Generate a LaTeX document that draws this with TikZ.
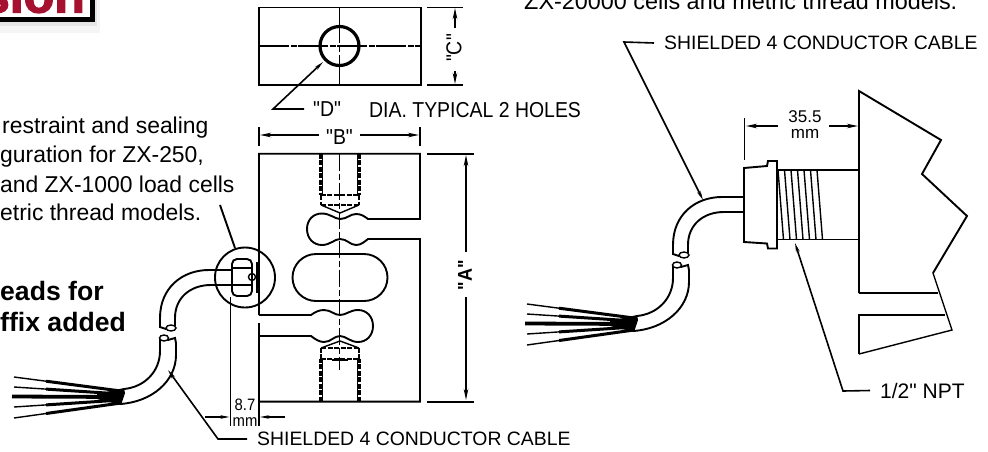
\documentclass[tikz,border=0pt]{standalone}
\usepackage{fontspec}
\setmainfont{Liberation Sans}
\newfontfamily\narrowfont[FakeStretch=0.9]{Liberation Sans}
\newfontfamily\plainfont{Liberation Sans}
\newfontfamily\logofont[FakeBold=2.5]{Liberation Sans Bold}
\usetikzlibrary{arrows.meta,calc}
\definecolor{logored}{HTML}{A5112F}
\tikzset{
    part/.style={line width=1.9pt},
    thinpart/.style={line width=1.4pt},
    hidden/.style={line width=2.2pt, dash pattern=on 5pt off 1.5pt},
    centre/.style={line width=1.7pt, dash pattern=on 17pt off 3pt on 6pt off 3pt},
    hairline/.style={line width=1.7pt, dash pattern=on 30pt off 1.5pt on 6pt off 1.5pt},
    dim/.style={line width=1.7pt, -{Stealth[length=11pt,width=4.5pt]}},
    leader/.style={line width=1.6pt, -{Stealth[length=9pt,width=3.5pt]}},
    note/.style={font=\fontsize{22.9}{24}\selectfont, inner sep=0pt, anchor=base west},
    boldnote/.style={font=\fontsize{26.6}{28}\selectfont\bfseries, inner sep=0pt, anchor=base west},
    callout/.style={font=\fontsize{19.4}{22}\selectfont, inner ysep=0pt, inner xsep=10pt, anchor=west},
    dimtext/.style={font=\narrowfont\fontsize{21.6}{24}\selectfont, inner sep=0pt},
    smalldim/.style={font=\narrowfont\fontsize{16.5}{18}\selectfont, inner sep=0pt},
}
% cable with cut mark and stripped wires, drawn where the right hand one sits
\newcommand{\cablerun}{
    \draw[part] (744,197) -- (722,197) .. controls (695,197) and (673,215) .. (673,245) -- (673,254) -- (679,256);
    \draw[part] (744,212) -- (724,212) .. controls (703,212) and (688,225) .. (688,245) -- (688,253);
    \draw[thinpart] (684,255) ellipse [x radius=5, y radius=3];
    \draw[thinpart] (677,265) ellipse [x radius=4.5, y radius=3];
    \draw[part] (673,266) -- (673,278) .. controls (673,298) and (658,314) .. (637,316);
    \draw[part] (681,267) -- (688,265) -- (689,270) -- (689,282) .. controls (689,308) and (665,329) .. (633,331);
    \fill (637,315) -- (638,320) -- (634,332) -- (610,326) -- (610,321) -- cycle;
    \foreach \tipy/\endy in {304/318,314/321,334/327,345/330} {
        \draw[line width=1.4pt] (527,\tipy) -- (634,\endy);
        \draw[line width=3pt] ($(527,\tipy)!.3!(634,\endy)$) -- (634,\endy);
    }
    \draw[line width=3.8pt] (525,323.5) -- (634,324);
}
\begin{document}
\begin{tikzpicture}[x=1pt, y=-1pt]
    \useasboundingbox (0,0) rectangle (988,451);

    % logo corner
    \fill[black!4] (0,0) rectangle (100,33);
    \fill[black!10] (0,0) rectangle (97,26);
    \fill[black] (0,0) rectangle (95,21.5);
    \fill[white] (0,0) rectangle (89.5,16.5);
    \node[font=\logofont\fontsize{50}{50}\selectfont, text=logored, inner sep=0pt, anchor=base east] (logo) at (85,12.5) {ision};

    % notes
    \node[note] (noteA) at (2,133) {restraint and sealing};
    \node[note] (noteB) at (0,162.5) {guration for ZX-250,};
    \node[note] (noteC) at (0,192) {and ZX-1000 load cells};
    \node[note] (noteD) at (0,220) {etric thread models.};
    \node[boldnote] (leadsA) at (0,300) {eads for};
    \node[boldnote] (leadsB) at (0,331.5) {ffix added};
    \node[note, font=\fontsize{23.4}{24}\selectfont] (noteE) at (524,9) {ZX-20000 cells and metric thread models.};

    % top view
    \draw[part] (259,7.5) rectangle (421,85);
    \draw[part] (339.5,7.5) -- (339.5,26) (339.5,66) -- (339.5,85);
    \draw[centre] (339.5,26) -- (339.5,66);
    \draw[hairline] (259,46) -- (421,46);
    \draw[line width=3.2pt] (339.5,46) circle [radius=19.5];
    \draw[part] (427,7.5) -- (463,7.5) (427,85) -- (463,85);
    \node[dimtext, rotate=90] (dimC) at (454,48) {"C"};
    \coordinate (Ctop) at (455,8);
    \coordinate (Cstart) at (455,28);
    \coordinate (Cbot) at (455,84);
    \coordinate (Cend) at (455,71);
    \draw[dim] (Cstart) -- (Ctop);
    \draw[dim] (Cend) -- (Cbot);

    % hole callout
    \node[dimtext, anchor=west] (dimD) at (313,109) {"D"};
    \node[dimtext, anchor=west] (holes) at (369,110) {DIA. TYPICAL 2 HOLES};
    \coordinate (Dbend) at (273,109);
    \coordinate (Dend) at (304,109);
    \coordinate (Dtip) at (323,62);
    \draw[leader] (Dend) -- (Dbend) -- (Dtip);

    % width dimension
    \node[dimtext] (dimB) at (339.5,137) {"B"};
    \draw[part] (259,127) -- (259,146) (420,127) -- (420,146);
    \draw[dim] (319,135) -- (260,135);
    \draw[dim] (360,135) -- (419,135);

    % body with the two slots
    \draw[part] (259,315) -- (259,153.7) -- (420,153.7) -- (420,219) -- (368,219)
        .. controls (364,216) and (361,214) .. (356,214)
        .. controls (350,214) and (347,219) .. (340,219)
        .. controls (335,219) and (330,213.5) .. (322,213.5)
        .. controls (313,213.5) and (307,220) .. (307,229)
        .. controls (307,238) and (313,245) .. (322,245)
        .. controls (330,245) and (335,239) .. (340,239)
        .. controls (347,239) and (350,245) .. (356,245)
        .. controls (361,245) and (364,242) .. (368,239)
        -- (420,239) -- (420,401.6) -- (259,401.6) -- (259,323);
    \draw[part] (259,315) -- (311,315)
        .. controls (315,312) and (319,310) .. (324,310)
        .. controls (331,310) and (334,315) .. (340,315)
        .. controls (346,315) and (350,310) .. (358,310)
        .. controls (367,310) and (373,317) .. (373,326)
        .. controls (373,335) and (367,342) .. (358,342)
        .. controls (350,342) and (346,336) .. (340,336)
        .. controls (334,336) and (331,342) .. (324,342)
        .. controls (319,342) and (315,339) .. (311,336) -- (259,336);
    \draw[part] (316,254) -- (364,254) arc [start angle=-90, end angle=90, radius=23.5]
        -- (316,301) arc [start angle=90, end angle=270, radius=23.5] -- cycle;
    \draw[centre] (339.5,153.7) -- (339.5,370);

    % threaded holes
    \draw[hidden] (320.5,153.7) -- (320.5,195) (359.5,153.7) -- (359.5,195) (320.5,195) -- (359.5,195);
    \draw[thinpart] (322.5,153.7) -- (322.5,195) (357.5,153.7) -- (357.5,195);
    \draw[hidden] (321,195) -- (321,205) (359,195) -- (359,205) (321,205) -- (359,205);
    \draw[thinpart] (321,205) -- (340,213) -- (359,205);
    \draw[hidden] (320.5,401.6) -- (320.5,359) (359.5,401.6) -- (359.5,359) (320.5,359) -- (359.5,359);
    \draw[thinpart] (322.5,401.6) -- (322.5,359) (357.5,401.6) -- (357.5,359);
    \draw[hidden] (321,359) -- (321,348) (359,359) -- (359,348) (321,348) -- (359,348);
    \draw[thinpart] (321,348) -- (340,341) -- (359,348);
    \draw[thinpart] (332,360) -- (348,360);

    % height dimension
    \node[font=\narrowfont\fontsize{20}{24}\selectfont\bfseries, inner sep=0pt, rotate=90] (dimA) at (465,275) {"A"};
    \draw[part] (427,153.7) -- (474,153.7) (427,401.6) -- (474,401.6);
    \draw[dim] (466,252) -- (466,155);
    \draw[dim] (466,297) -- (466,400);

    % fitting on the load cell
    \draw[part] (245,277.5) circle [radius=30];
    \draw[part, rounded corners=5pt] (232,259) rectangle (252,296);
    \draw[part] (232,268) -- (252,268) (232,285) -- (252,285);
    \draw[thinpart] (252,277) circle [radius=3.5];
    \draw[line width=2.6pt] (257,262) -- (257,293);
    \begin{scope}[shift={(-513,73)}]
        \cablerun
    \end{scope}

    % offset dimension
    \draw[part] (230.5,297) -- (230.5,426);
    \draw[part] (259,401) -- (259,426);
    \draw[thinpart, -{Stealth[length=9pt,width=3.5pt]}] (205,417) -- (229.5,417);
    \draw[thinpart, -{Stealth[length=9pt,width=3.5pt]}] (285,417) -- (260,417);
    \node[smalldim] (offsetA) at (245,405) {8.7};
    \node[smalldim] (offsetB) at (245,422) {mm};

    % callouts of the left view
    \node[callout] (cableA) at (247,439) {SHIELDED 4 CONDUCTOR CABLE};
    \coordinate (cableAbend) at (218,439);
    \coordinate (cableAtip) at (168,370);
    \draw[leader] (cableA.west) -- (cableAbend) -- (cableAtip);
    \coordinate (detailStart) at (220,205);
    \coordinate (detailEnd) at (235,248);
    \draw[part] (detailStart) -- (detailEnd);

    % right view
    \cablerun
    \draw[part] (744,197) -- (744,242) -- (767,243.5) -- (768,248.5) -- (777,248.5) -- (777,161) -- (768,161) -- (767,166) -- (744,168) -- cycle;
    \draw[part] (777,170) -- (859,170) (777,239.5) -- (859,239.5);
    \foreach \topx in {778,784.5,791,797.5,804,810.5,817} {
        \draw[thinpart] (\topx,170) -- (\topx+5.5,239.5);
    }

    % wall section
    \draw[part] (859,293) -- (859,91) -- (941,140) -- (922,174) -- (967,216) -- (933,273);
    \draw[thinpart] (933,273) -- (952,330) -- (859,354);
    \draw[part] (859,293) -- (938,293);
    \draw[part] (945,315) -- (859,315) -- (859,354);

    % length dimension
    \draw[part] (744.5,118) -- (744.5,160);
    \draw[dim] (778,126) -- (746,126);
    \draw[dim] (829,126) -- (858,126);
    \node[font=\fontsize{17}{18}\selectfont, inner sep=0pt] (lengthA) at (805,117) {35.5};
    \node[font=\fontsize{17}{18}\selectfont, inner sep=0pt] (lengthB) at (805,134) {mm};

    % callouts of the right view
    \node[callout] (cableB) at (654,43) {SHIELDED 4 CONDUCTOR CABLE};
    \coordinate (cableBbend) at (624,42);
    \coordinate (cableBtip) at (703,200);
    \draw[leader] (cableB.west) -- (cableBbend) -- (cableBtip);
    \node[callout, font=\plainfont\fontsize{21}{22}\selectfont] (npt) at (870,390.5) {1/2" NPT};
    \coordinate (nptbend) at (843,391);
    \coordinate (npttip) at (795,243);
    \draw[leader] (npt.west) -- (nptbend) -- (npttip);
\end{tikzpicture}
\end{document}
